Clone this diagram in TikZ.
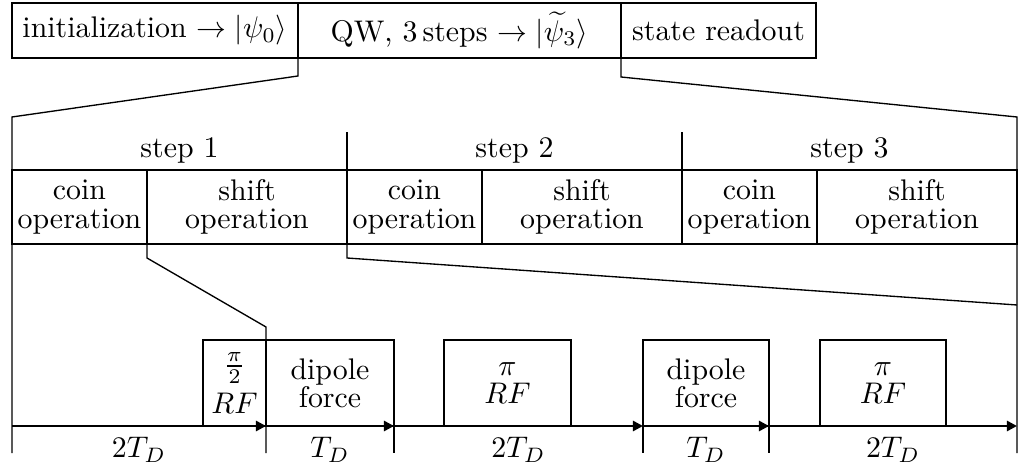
\documentclass[tikz,border=0pt]{standalone}
\usetikzlibrary{arrows.meta,positioning}
\begin{document}
\begin{tikzpicture}[x=0.335pt, y=-0.335pt, >={Triangle[length=3.4pt,width=3.4pt]},
  wid/.style={minimum width=#1*0.335pt}, hgt/.style={minimum height=#1*0.335pt},
  topbox/.style={draw,line width=0.5pt,outer sep=0pt,inner sep=0pt,hgt=55},
  opbox/.style={draw,line width=0.9pt,outer sep=0pt,inner sep=0pt,hgt=74,align=center,font=\fontsize{10pt}{9.5pt}\selectfont},
  pulse/.style={draw,line width=0.9pt,outer sep=0pt,inner sep=0pt,hgt=86,align=center,anchor=south west,font=\fontsize{10pt}{9.5pt}\selectfont},
  zoom/.style={line width=0.45pt},
  tl/.style={->,line width=0.9pt}]
\useasboundingbox (0,0) rectangle (1028,472);
% sequence
\node[topbox,wid=286,anchor=north west] (init) at (12,3) {initialization $\rightarrow|\psi_0\rangle$};
\node[topbox,wid=323,right=0pt of init] (qw) {QW, 3\,steps $\rightarrow|\widetilde{\psi}_3\rangle$};
\node[topbox,wid=195,right=0pt of qw] (read) {state readout};
\coordinate (zl) at (12,117);
\coordinate (zr) at (1017,117);
% time axis points
\foreach \n/\x in {0/12,1/266,2/394,3/643,4/769,5/1017} {
  \coordinate (t\n) at (\x,426);
  \coordinate (b\n) at (\x,453);
}
% steps
\foreach \i in {1,2,3} {
  \node[opbox,wid=135,anchor=north west] (coin\i) at ({12+335*(\i-1)},170) {coin\\operation};
  \node[opbox,wid=200,right=0pt of coin\i] (shift\i) {shift\\operation};
  \node (step\i) at ({179.5+335*(\i-1)},150) {step \i};
}
\draw[zoom] (coin2.north west) -- ++(0,-38);
\draw[zoom] (coin3.north west) -- ++(0,-38);
\draw[zoom] (init.south east) -- ++(0,18) -- (zl) -- (b0);
\draw[zoom] (qw.south east) -- ++(0,19) -- (zr) -- (b5);
% zoom into one step
\coordinate (zc) at (266,327);
\coordinate (zcr) at (1017,305);
\draw[zoom] (coin1.south east) -- ++(0,14) -- (zc) -- (b1);
\draw[zoom] (coin2.south west) -- ++(0,14) -- (zcr);
\foreach \n in {2,3,4} \draw[zoom] (t\n) -- (b\n);
% pulses
\node[pulse,wid=63] (rf1) at (203,426) {$\frac{\pi}{2}$\\[2pt]$RF$};
\node[pulse,wid=128] (dip1) at (t1) {dipole\\force};
\node[pulse,wid=127] (rf2) at (444,426) {$\pi$\\$RF$};
\node[pulse,wid=126] (dip2) at (t3) {dipole\\force};
\node[pulse,wid=126] (rf3) at (820,426) {$\pi$\\$RF$};
\draw[tl] (t0) -- node[below]{$2T_D$} (t1);
\draw[tl] (t1) -- node[below]{$T_D$} (t2);
\draw[tl] (t2) -- node[below]{$2T_D$} (t3);
\draw[tl] (t3) -- node[below]{$T_D$} (t4);
\draw[tl] (t4) -- node[below]{$2T_D$} (t5);
\end{tikzpicture}
\end{document}
